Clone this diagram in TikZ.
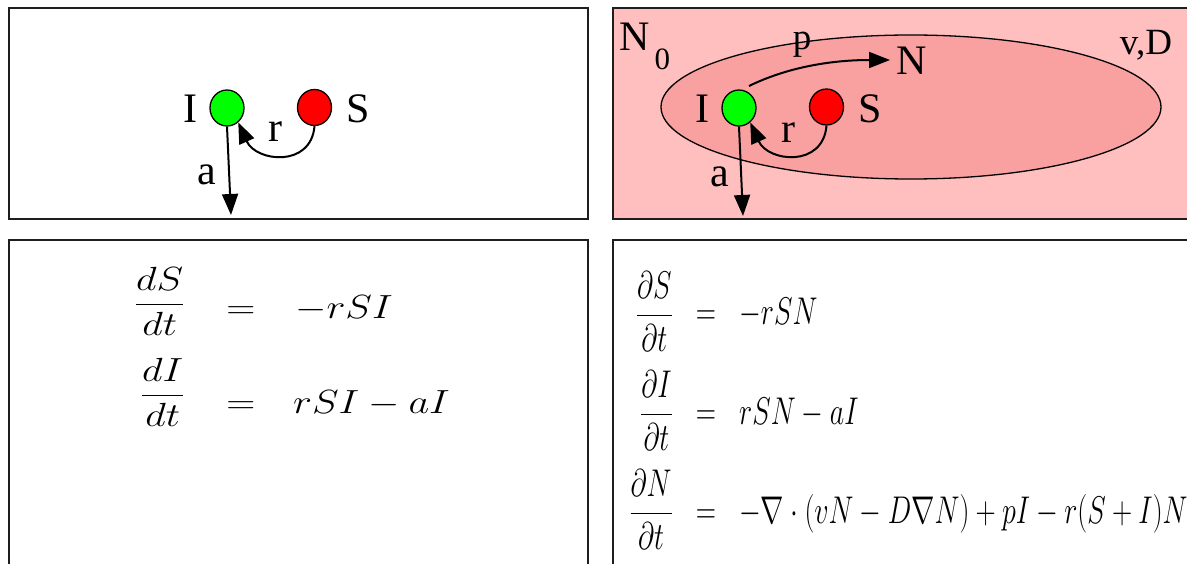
\RequirePackage{fix-cm}
\documentclass[tikz,border=0pt]{standalone}
\usepackage[no-math]{fontspec}
\usepackage{graphicx}
\setmainfont{Liberation Serif}
\usetikzlibrary{arrows.meta,shapes.geometric}
\definecolor{pinkbg}{RGB}{255,191,191}
\definecolor{pinkin}{RGB}{249,161,161}
\definecolor{ggreen}{RGB}{0,255,0}
\definecolor{rred}{RGB}{255,0,0}
\definecolor{framec}{RGB}{30,30,30}
\newcommand{\lefteq}[1]{\scalebox{1.3}[1.08]{\fontsize{31}{31}\selectfont$\displaystyle #1$}}
\newcommand{\righteq}[1]{\scalebox{1}[1.38]{\fontsize{28}{28}\selectfont$\displaystyle #1$}}
\begin{document}
\begin{tikzpicture}[x=1pt,y=-1pt,
  panel/.style={draw=framec,line width=2pt},
  ball/.style={ellipse,draw=black,line width=1.3pt,minimum width=34pt,minimum height=36pt,inner sep=0pt},
  lbl/.style={anchor=base,inner sep=0pt,font=\rmfamily\fontsize{42}{42}\selectfont},
  smalllbl/.style={anchor=base,inner sep=0pt,font=\rmfamily\fontsize{37}{37}\selectfont},
  flow/.style={line width=2pt,-{Triangle[length=21pt,width=16pt]}},
  eqn/.style={inner sep=0pt,anchor=base},
]
\useasboundingbox (0,0) rectangle (1187,564);
\fill[white] (0,0) rectangle (1187,564);

% ---------- top left panel ----------
\draw[panel] (9,8) rectangle (588,219);
\node[ball,fill=ggreen] (I1) at (227,108) {};
\node[ball,fill=rred] (S1) at (314.5,107.5) {};
\node[lbl] (lI1) at (190,123) {I};
\node[lbl] (lS1) at (358,123) {S};
\node[lbl] (lr1) at (275,142) {r};
\node[lbl] (la1) at (207,185) {a};
\draw[flow] (S1.south) .. controls (311,168) and (256,162) .. (I1.-52);
\coordinate (a1end) at (231,215);
\draw[flow] (I1.south) -- (a1end);

% ---------- top right panel ----------
\draw[panel,fill=pinkbg] (613,8) rectangle (1200,219);
\node[ellipse,draw=black,line width=1.3pt,fill=pinkin,minimum width=500pt,minimum height=144pt,inner sep=0pt] (pool) at (911,107) {};
\node[lbl,anchor=base west] (N0) at (619,51) {N\raisebox{-19pt}{\fontsize{31}{31}\selectfont\,0}};
\node[smalllbl] (lp) at (802,50) {p};
\node[lbl] (lN) at (912,75) {N};
\node[smalllbl] (lvD) at (1146,55) {v,D};
\node[ball,fill=ggreen] (I2) at (739,108) {};
\node[ball,fill=rred] (S2) at (826.5,107) {};
\node[lbl] (lI2) at (702,123) {I};
\node[lbl] (lS2) at (870,123) {S};
\node[lbl] (lr2) at (788,143) {r};
\node[lbl] (la2) at (720,187) {a};
\draw[flow] (S2.south) .. controls (823,168) and (768,162) .. (I2.-52);
\coordinate (a2end) at (743,216);
\draw[flow] (I2.south) -- (a2end);
\coordinate (pstart) at (749,86);
\coordinate (pend) at (890,60);
\draw[flow] (pstart) .. controls (790,66) and (835,60) .. (pend);

% ---------- bottom left panel ----------
\draw[panel] (9,600) -- (9,240) -- (588,240) -- (588,600);
\node[eqn,anchor=base east] (lf1) at (185,313) {\lefteq{\frac{dS}{dt}}};
\node[eqn] (le1) at (241,319) {\lefteq{=}};
\node[eqn,anchor=base west] (lr1e) at (295,319) {\lefteq{-rSI}};
\node[eqn,anchor=base east] (lf2) at (185,404) {\lefteq{\frac{dI}{dt}}};
\node[eqn] (le2) at (241,413) {\lefteq{=}};
\node[eqn,anchor=base west] (lr2e) at (293,413) {\lefteq{rSI-aI}};

% ---------- bottom right panel ----------
\draw[panel] (613,600) -- (613,240) -- (1200,240);
\node[eqn,anchor=base east] (rf1) at (673,325) {\righteq{\frac{\partial S}{\partial t}}};
\node[eqn] (re1) at (706,325) {\righteq{=}};
\node[eqn,anchor=base west] (rr1) at (739,325) {\righteq{-rSN}};
\node[eqn,anchor=base east] (rf2) at (673,424) {\righteq{\frac{\partial I}{\partial t}}};
\node[eqn] (re2) at (706,424) {\righteq{=}};
\node[eqn,anchor=base west] (rr2) at (739,424) {\righteq{rSN-aI}};
\node[eqn,anchor=base east] (rf3) at (673,523) {\righteq{\frac{\partial N}{\partial t}}};
\node[eqn] (re3) at (706,523) {\righteq{=}};
\node[eqn,anchor=base west] (rr3) at (739,523) {\righteq{-\nabla\cdot(vN-D\nabla N)+pI-r(S+I)N}};
\end{tikzpicture}
\end{document}
